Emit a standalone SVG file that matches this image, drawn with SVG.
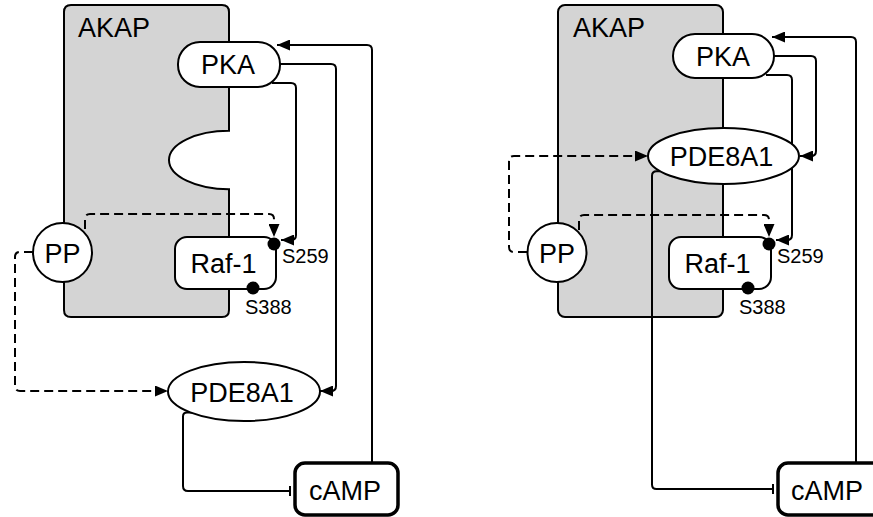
<svg xmlns="http://www.w3.org/2000/svg" width="873" height="517" viewBox="0 0 873 517">
<style>
.akap{fill:#d4d4d4;stroke:#000;stroke-width:2}
.node{fill:#fff;stroke:#000;stroke-width:2}
.camp{fill:#fff;stroke:#000;stroke-width:3.5}
.ln{fill:none;stroke:#000;stroke-width:2}
.dash{fill:none;stroke:#000;stroke-width:2;stroke-dasharray:9 5}
.t{font-family:"Liberation Sans",Arial,Helvetica,sans-serif;font-size:27px;fill:#000}
.tm{text-anchor:middle}
.s{font-family:"Liberation Sans",Arial,Helvetica,sans-serif;font-size:20px;fill:#000}
.dot{fill:#000}
</style>
<defs>
<marker id="arr" markerUnits="userSpaceOnUse" markerWidth="13" markerHeight="11" refX="13" refY="5.5" orient="auto" viewBox="0 0 13 11">
<path d="M0,0 L13,5.5 L0,11 Z" fill="#000"/>
</marker>
<marker id="tee" markerUnits="userSpaceOnUse" markerWidth="4" markerHeight="10" refX="2" refY="5" orient="auto" viewBox="0 0 4 10">
<line x1="2" y1="0" x2="2" y2="10" stroke="#000" stroke-width="2"/>
</marker>
</defs>

<!-- LEFT PANEL -->
<g id="akap-left">
<path class="akap" d="M71 5 L222 5 Q229 5 229 12 L229 130.7 A60 29.3 0 0 0 229 189.3 L229 310 Q229 317 222 317 L71 317 Q64 317 64 310 L64 12 Q64 5 71 5 Z"/>
<text class="t tm" x="114" y="37">AKAP</text>
</g>

<g id="connectors-left">
<path class="ln" d="M372 463 L372 50 Q372 45 367 45 L277 45" marker-end="url(#arr)"/>
<path class="ln" d="M276 64 L331 64 Q336 64 336 69 L336 386 Q336 391 331 391 L320 391" marker-end="url(#arr)"/>
<path class="ln" d="M272 83 L291 83 Q296 83 296 88 L296 235 Q296 240 291 240 L281 240" marker-end="url(#arr)"/>
<path class="dash" d="M85 229 L85 219 Q85 214 90 214 L269 214 Q274 214 274 219 L274 237" marker-end="url(#arr)"/>
<path class="dash" d="M33 252 L20 252 Q15 252 15 257 L15 386 Q15 391 20 391 L168 391" marker-end="url(#arr)"/>
<path class="ln" d="M192 412.4 L187 412.4 Q183 412.4 183 416.4 L183 486 Q183 491 188 491 L290 491" marker-end="url(#tee)"/>
</g>

<g id="pka-left">
<rect class="node" x="178" y="42" width="102" height="45" rx="22" ry="22"/>
<text class="t tm" x="228" y="74">PKA</text>
</g>
<g id="raf1-left">
<rect class="node" x="175" y="237" width="101" height="52" rx="12" ry="12"/>
<text class="t tm" x="223.5" y="273">Raf-1</text>
<circle class="dot" cx="274" cy="244" r="6.5"/>
<circle class="dot" cx="253" cy="288" r="6.5"/>
<text class="s" x="282" y="263">S259</text>
<text class="s" x="245" y="314">S388</text>
</g>
<g id="pp-left">
<circle class="node" cx="62.5" cy="252.5" r="29.5"/>
<text class="t tm" x="62.5" y="263">PP</text>
</g>
<g id="pde8a1-left">
<ellipse class="node" cx="244" cy="391.5" rx="76" ry="29.5"/>
<text class="t tm" x="242" y="402">PDE8A1</text>
</g>
<g id="camp-left">
<rect class="camp" x="295" y="463" width="103" height="52" rx="10" ry="10"/>
<text class="t tm" x="345" y="500">cAMP</text>
</g>

<!-- RIGHT PANEL -->
<g id="akap-right">
<rect class="akap" x="558" y="5" width="165" height="312" rx="7" ry="7"/>
<text class="t tm" x="609" y="37">AKAP</text>
</g>

<g id="connectors-right">
<path class="ln" d="M856 463 L856 42 Q856 37 851 37 L772 37" marker-end="url(#arr)"/>
<path class="ln" d="M770 56 L811 56 Q816 56 816 61 L816 151 Q816 156 811 156 L800 156" marker-end="url(#arr)"/>
<path class="ln" d="M766 75 L787 75 Q792 75 792 80 L792 235 Q792 240 787 240 L776 240" marker-end="url(#arr)"/>
<path class="dash" d="M579 230 L579 220 Q579 215 584 215 L764 215 Q769 215 769 220 L769 237" marker-end="url(#arr)"/>
<path class="dash" d="M527 252 L514 252 Q509 252 509 247 L509 161 Q509 156 514 156 L648 156" marker-end="url(#arr)"/>
<path class="ln" d="M660 171.2 L656.5 171.2 Q652 171.2 652 175.7 L652 484.5 Q652 489 656.5 489 L773 489" marker-end="url(#tee)"/>
</g>

<g id="pka-right">
<rect class="node" x="673" y="34" width="101" height="44" rx="22" ry="22"/>
<text class="t tm" x="723" y="66">PKA</text>
</g>
<g id="pde8a1-right">
<ellipse class="node" cx="723.5" cy="156" rx="75.5" ry="28"/>
<text class="t tm" x="721.5" y="166">PDE8A1</text>
</g>
<g id="raf1-right">
<rect class="node" x="669" y="237" width="102" height="52" rx="12" ry="12"/>
<text class="t tm" x="717.5" y="273">Raf-1</text>
<circle class="dot" cx="769" cy="244" r="6.5"/>
<circle class="dot" cx="748" cy="288" r="6.5"/>
<text class="s" x="777" y="263">S259</text>
<text class="s" x="739" y="314">S388</text>
</g>
<g id="pp-right">
<circle class="node" cx="557" cy="252.5" r="29.5"/>
<text class="t tm" x="557" y="263">PP</text>
</g>
<g id="camp-right">
<rect class="camp" x="778" y="463" width="110" height="52" rx="10" ry="10"/>
<text class="t tm" x="827" y="500">cAMP</text>
</g>
</svg>
